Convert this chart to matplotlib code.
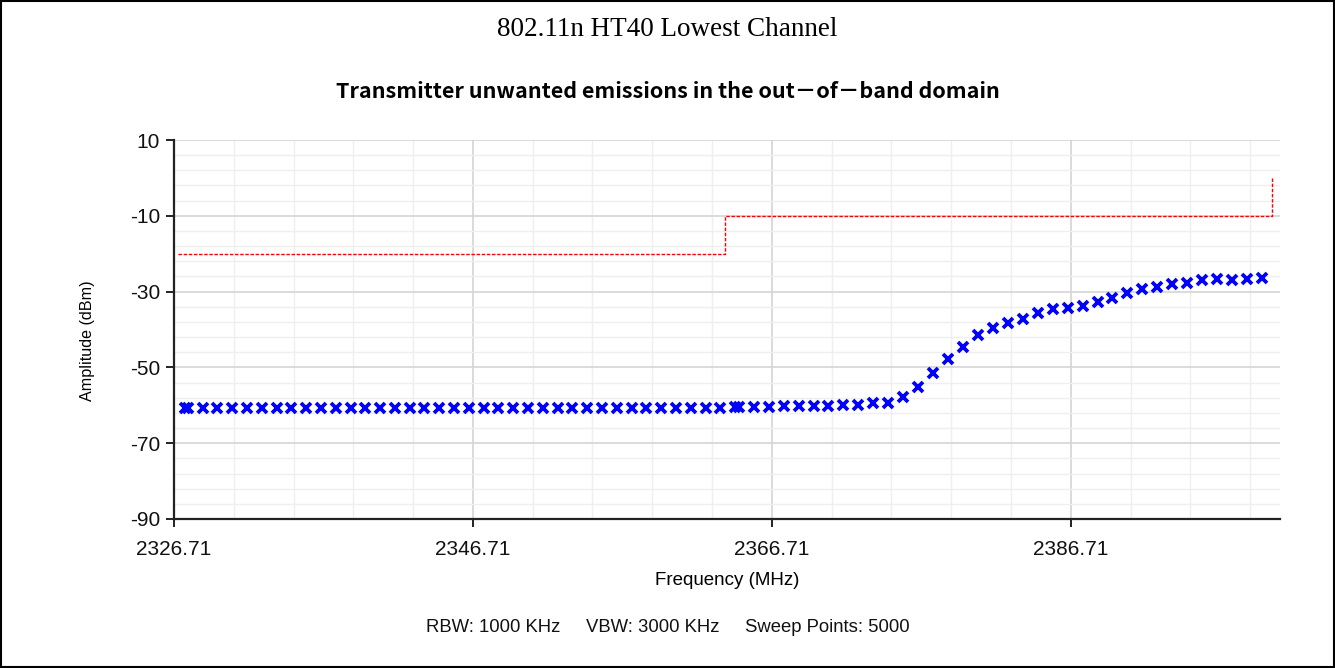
import matplotlib
matplotlib.use("Agg")
import matplotlib.pyplot as plt
from matplotlib.patches import Rectangle
from matplotlib.ticker import MultipleLocator, FixedLocator

plt.rcParams['font.family'] = ['Liberation Sans', 'DejaVu Sans']
plt.rcParams['axes.unicode_minus'] = False

# sweep segment 1 (2327 - 2364 MHz)
freq_a = [2327.45, 2327.63, 2328.62, 2329.61, 2330.60, 2331.59, 2332.58, 2333.57,
          2334.56, 2335.55, 2336.54, 2337.53, 2338.52, 2339.51, 2340.50, 2341.49,
          2342.48, 2343.47, 2344.46, 2345.45, 2346.44, 2347.43, 2348.42, 2349.41,
          2350.40, 2351.39, 2352.38, 2353.37, 2354.36, 2355.35, 2356.34, 2357.33,
          2358.32, 2359.31, 2360.30, 2361.29, 2362.28, 2363.27, 2364.26]
amp_a = [-60.6, -60.6, -60.6, -60.7, -60.6, -60.6, -60.7, -60.6,
         -60.6, -60.6, -60.7, -60.6, -60.6, -60.6, -60.6, -60.7,
         -60.6, -60.6, -60.6, -60.7, -60.6, -60.6, -60.6, -60.6,
         -60.7, -60.6, -60.6, -60.6, -60.6, -60.6, -60.7, -60.6,
         -60.6, -60.6, -60.6, -60.6, -60.6, -60.6, -60.5]

# sweep segment 2 (2364 - 2400 MHz)
freq_b = [2364.5, 2365.5, 2366.5, 2367.5, 2368.5, 2369.5, 2370.5, 2371.5, 2372.5,
          2373.5, 2374.5, 2375.5, 2376.5, 2377.5, 2378.5, 2379.5, 2380.5, 2381.5,
          2382.5, 2383.5, 2384.5, 2385.5, 2386.5, 2387.5, 2388.5, 2389.5, 2390.5,
          2391.5, 2392.5, 2393.5, 2394.5, 2395.5, 2396.5, 2397.5, 2398.5, 2399.5]
amp_b = [-60.5, -60.5, -60.4, -60.3, -60.3, -60.2, -60.1, -60.0, -59.8,
         -59.5, -59.3, -57.9, -55.1, -51.6, -47.8, -44.5, -41.5, -39.6,
         -38.2, -37.3, -35.7, -34.5, -34.3, -33.7, -32.7, -31.8, -30.3,
         -29.4, -28.9, -28.0, -27.7, -27.0, -26.7, -27.0, -26.7, -26.5]

# limit line
limit_f = [2327.0, 2363.6, 2363.6, 2400.2, 2400.2]
limit_a = [-20, -20, -10, -10, 0]

x_ticks = [2326.71, 2346.71, 2366.71, 2386.71]
y_ticks = [10, -10, -30, -50, -70, -90]

fig = plt.figure(figsize=(13.35, 6.68), dpi=100)
ax = fig.add_axes([174/1335, 1 - 519/668, (1280 - 174)/1335, (519 - 140)/668])

ax.plot(limit_f, limit_a, color='#ff0000', lw=1.0, ls=(0, (2.5, 1.2)), zorder=3)
ax.plot(freq_a, amp_a, ls='none', marker='x', ms=7.3, mew=2.7, color='#0000ff', zorder=4)
ax.plot(freq_b, amp_b, ls='none', marker='x', ms=7.3, mew=2.7, color='#0000ff', zorder=4)

ax.set_xlim(2326.71, 2400.71)
ax.set_ylim(-90, 10)
ax.xaxis.set_major_locator(FixedLocator(x_ticks))
ax.xaxis.set_minor_locator(MultipleLocator(4, offset=2326.71))
ax.yaxis.set_major_locator(FixedLocator(y_ticks))
ax.yaxis.set_minor_locator(MultipleLocator(4, offset=2))
ax.set_xticklabels(['%.2f' % t for t in x_ticks])

ax.grid(which='major', color='#d4d4d4', lw=1.2)
ax.grid(which='minor', color='#efefef', lw=1.0)
ax.set_axisbelow(True)

for s in ['top', 'right']:
    ax.spines[s].set_visible(False)
for s in ['left', 'bottom']:
    ax.spines[s].set_color('#222222')
    ax.spines[s].set_linewidth(1.6)
ax.tick_params(which='major', direction='out', length=6, width=1.4, color='#222222',
               labelsize=15, labelcolor='#111111', pad=4)
ax.tick_params(axis='x', pad=9)
ax.tick_params(which='minor', length=0)

ax.set_xlabel('Frequency (MHz)', fontsize=13.5)
ax.xaxis.set_label_coords(0.5, -0.14)
ax.set_ylabel('Amplitude (dBm)', fontsize=11.6)
ax.yaxis.set_label_coords(-0.071, 0.47)

fig.text(0.5, 1 - 29/668, '802.11n HT40 Lowest Channel', ha='center', va='center',
         fontsize=19.5, family=['Liberation Serif', 'DejaVu Serif'])
fig.text(0.5, 1 - 92/668, 'Transmitter unwanted emissions in the out\uff0dof\uff0dband domain',
         ha='center', va='center', fontsize=15.5, fontweight='bold',
         family=['Noto Sans CJK SC', 'DejaVu Sans'])
fig.text(0.5, 1 - 627/668, 'RBW: 1000 KHz     VBW: 3000 KHz     Sweep Points: 5000',
         ha='center', va='center', fontsize=13.3, color='#111111')

fig.patches.append(Rectangle((0.001, 0.001), 0.998, 0.997, transform=fig.transFigure,
                             fill=False, edgecolor='black', lw=1.5))

fig.savefig('out.png', dpi=100)
